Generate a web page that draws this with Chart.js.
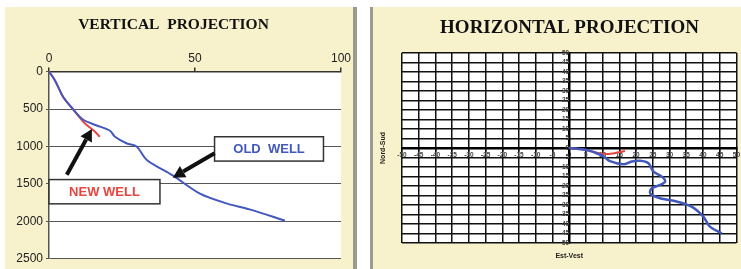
<!DOCTYPE html>
<html>
<head>
<meta charset="utf-8">
<script src="https://cdn.jsdelivr.net/npm/chart.js@4.4.1/dist/chart.umd.min.js"></script>
<style>
  body { margin: 0; background: #fff; width: 741px; height: 269px; overflow: hidden; position: relative; }
  .panel { position: absolute; top: 7px; height: 262px; background: #f7f1cc; }
  #leftPanel { left: 5px; width: 348px; border-right: 4px solid #9a9a8e; }
  #rightPanel { left: 370px; width: 368px; border-left: 3px solid #9a9a8e; }
  canvas { display: block; }
</style>
</head>
<body>
<div class="panel" id="leftPanel"><canvas id="vertChart" width="348" height="262"></canvas></div>
<div class="panel" id="rightPanel"><canvas id="horizChart" width="368" height="262"></canvas></div>
<script>
// vertical projection: horizontal displacement vs depth
var oldWellX     = [0, 2, 4.8, 8.2, 11.6, 16.4, 20.9, 22.6, 26.7, 30, 33.5, 42.5, 51.7, 60.8, 68.7, 80.8];
var oldWellDepth = [0, 115, 335, 500, 640, 720, 790, 870, 960, 1000, 1180, 1390, 1630, 1760, 1840, 1990];
var newWellX     = [0, 2, 4.8, 8.2, 9.6, 12.5, 15.4, 17.4];
var newWellDepth = [0, 115, 335, 500, 570, 700, 790, 870];

// horizontal projection: East-West vs North-South
var oldPlanE = [0, 5.3, 7.2, 10.2, 12.2, 16.2, 18.7, 21.2, 23.7, 25.2, 27.7, 28.7, 27.2, 24.7, 24.2, 27.2, 32.1, 36.6, 40.1, 42.1, 45.6];
var oldPlanN = [0, -1.1, -2.1, -4.3, -7.0, -8.6, -7.2, -6.8, -8.1, -12.5, -15.1, -17.7, -19.5, -21.2, -23.9, -26.5, -28.2, -30.9, -36.1, -41.4, -44.9];
var newPlanE = [0, 5, 8.9, 11.3, 14, 16.7];
var newPlanN = [0, -1.1, -2.8, -3.2, -2.6, -1.6];

var depthTicks = [0, 500, 1000, 1500, 2000, 2500];
var offsetTicks = [0, 50, 100];

function toPoints(xs, ys) {
    return xs.map(function(x, i) { return { x: x, y: ys[i] }; });
}

var BLUE = '#4358bd';
var RED = '#e8453f';

var whiteArea = {
    id: 'whiteArea',
    beforeDraw: function(chart) {
        var a = chart.chartArea, ctx = chart.ctx;
        ctx.save();
        ctx.fillStyle = '#ffffff';
        ctx.fillRect(a.left, a.top, a.right - a.left, a.bottom - a.top);
        ctx.restore();
    }
};

function arrow(ctx, x1, y1, x2, y2) {
    var ang = Math.atan2(y2 - y1, x2 - x1);
    var len = 12, half = 6.5;
    var bx = x2 - len * Math.cos(ang), by = y2 - len * Math.sin(ang);
    ctx.beginPath();
    ctx.moveTo(x1, y1);
    ctx.lineTo(bx, by);
    ctx.lineWidth = 4;
    ctx.strokeStyle = '#111';
    ctx.stroke();
    ctx.beginPath();
    ctx.moveTo(x2, y2);
    ctx.lineTo(bx + half * Math.sin(ang), by - half * Math.cos(ang));
    ctx.lineTo(bx - half * Math.sin(ang), by + half * Math.cos(ang));
    ctx.closePath();
    ctx.fillStyle = '#111';
    ctx.fill();
}

function labelBox(chart, x1, d1, x2, d2, text, color) {
    var ctx = chart.ctx, sx = chart.scales.x, sy = chart.scales.y;
    var l = sx.getPixelForValue(x1), r = sx.getPixelForValue(x2);
    var t = sy.getPixelForValue(d1), b = sy.getPixelForValue(d2);
    ctx.save();
    ctx.fillStyle = '#fff';
    ctx.fillRect(l, t, r - l, b - t);
    ctx.lineWidth = 1.5;
    ctx.strokeStyle = '#333';
    ctx.strokeRect(l, t, r - l, b - t);
    ctx.fillStyle = color;
    ctx.font = 'bold 13px "Liberation Sans", Arial, sans-serif';
    ctx.textAlign = 'center';
    ctx.textBaseline = 'middle';
    ctx.fillText(text, (l + r) / 2, (t + b) / 2 + 1);
    ctx.restore();
}

var wellNotes = {
    id: 'wellNotes',
    afterDatasetsDraw: function(chart) {
        var ctx = chart.ctx, sx = chart.scales.x, sy = chart.scales.y;
        labelBox(chart, 0, 1442, 38, 1766, 'NEW WELL', RED);
        labelBox(chart, 56.7, 870, 94, 1195, 'OLD  WELL', BLUE);
        ctx.save();
        arrow(ctx, sx.getPixelForValue(6.1), sy.getPixelForValue(1377),
                   sx.getPixelForValue(14.7), sy.getPixelForValue(766));
        arrow(ctx, sx.getPixelForValue(56.7), sy.getPixelForValue(1091),
                   sx.getPixelForValue(42.4), sy.getPixelForValue(1416));
        ctx.restore();
    }
};

var labelFont = { family: '"Liberation Sans", Arial, sans-serif', size: 12 };

new Chart(document.getElementById('vertChart'), {
    type: 'scatter',
    data: {
        datasets: [{
            label: 'Old well',
            data: toPoints(oldWellX, oldWellDepth),
            showLine: true,
            borderColor: BLUE,
            borderWidth: 2,
            pointRadius: 0,
            tension: 0.3
        }, {
            label: 'New well',
            data: toPoints(newWellX, newWellDepth),
            showLine: true,
            borderColor: RED,
            borderWidth: 2,
            pointRadius: 0,
            tension: 0.3
        }]
    },
    options: {
        responsive: false,
        animation: false,
        layout: { padding: { top: 0, right: 11, bottom: 5, left: 0 } },
        plugins: {
            legend: { display: false },
            tooltip: { enabled: false },
            title: {
                display: true,
                text: 'VERTICAL  PROJECTION',
                color: '#111',
                font: { family: '"Liberation Serif", "Times New Roman", serif', size: 15.5, weight: 'bold', lineHeight: 1.2 },
                padding: { top: 9, bottom: 9 }
            }
        },
        scales: {
            x: {
                type: 'linear',
                position: 'top',
                min: 0,
                max: 100,
                afterBuildTicks: function(s) { s.ticks = offsetTicks.map(function(v) { return { value: v }; }); },
                afterFit: function(s) { s.height = 28; },
                ticks: { color: '#222', font: labelFont, padding: 2, maxRotation: 0, callback: function(v) { return String(v); } },
                grid: { drawOnChartArea: false, tickLength: 4, color: '#333', lineWidth: 1.5 },
                border: { color: '#333', width: 1.5 }
            },
            y: {
                type: 'linear',
                reverse: true,
                min: 0,
                max: 2500,
                afterBuildTicks: function(s) { s.ticks = depthTicks.map(function(v) { return { value: v }; }); },
                afterFit: function(s) { s.width = 44; },
                ticks: { color: '#222', font: labelFont, padding: 3, callback: function(v) { return String(v); } },
                grid: { color: '#555', lineWidth: 1, tickLength: 3 },
                border: { color: '#555', width: 1.5 }
            }
        }
    },
    plugins: [whiteArea, wellNotes]
});

var axisNames = {
    id: 'axisNames',
    afterDraw: function(chart) {
        var ctx = chart.ctx;
        ctx.save();
        ctx.fillStyle = '#222';
        ctx.font = 'bold 7px "Liberation Sans", Arial, sans-serif';
        ctx.textAlign = 'center';
        ctx.textBaseline = 'middle';
        ctx.fillText('Est-Vest', chart.scales.x.getPixelForValue(0), 249);
        ctx.translate(10, 141);
        ctx.rotate(-Math.PI / 2);
        ctx.fillText('Nord-Sud', 0, 0);
        ctx.restore();
    }
};

var smallTick = { family: '"Liberation Sans", Arial, sans-serif', size: 6.5, weight: 'bold' };

new Chart(document.getElementById('horizChart'), {
    type: 'scatter',
    data: {
        datasets: [{
            label: 'Old well',
            data: toPoints(oldPlanE, oldPlanN),
            showLine: true,
            borderColor: BLUE,
            borderWidth: 2.5,
            pointRadius: 0,
            tension: 0.3
        }, {
            label: 'New well',
            data: toPoints(newPlanE, newPlanN),
            showLine: true,
            borderColor: RED,
            borderWidth: 2,
            pointRadius: 0,
            tension: 0.3
        }]
    },
    options: {
        responsive: false,
        animation: false,
        layout: { padding: { top: 0, right: 4, bottom: 26, left: 29 } },
        plugins: {
            legend: { display: false },
            tooltip: { enabled: false },
            title: {
                display: true,
                text: 'HORIZONTAL PROJECTION',
                color: '#111',
                font: { family: '"Liberation Serif", "Times New Roman", serif', size: 19, weight: 'bold', lineHeight: 1.2 },
                padding: { top: 10, bottom: 13 }
            }
        },
        scales: {
            x: {
                type: 'linear',
                position: { y: 0 },
                min: -50,
                max: 50,
                ticks: { stepSize: 5, autoSkip: false, maxRotation: 0, color: '#444', font: smallTick, padding: 1 },
                grid: { color: '#111', lineWidth: 1.5, tickLength: 2 },
                border: { color: '#000', width: 2.5 }
            },
            y: {
                type: 'linear',
                position: { x: 0 },
                min: -50,
                max: 50,
                ticks: {
                    stepSize: 5, autoSkip: false, color: '#444', font: smallTick, padding: 1,
                    callback: function(v) { return Math.abs(v); }
                },
                grid: { color: '#111', lineWidth: 1.5, tickLength: 2 },
                border: { color: '#000', width: 2.5 }
            }
        }
    },
    plugins: [whiteArea, axisNames]
});
</script>
</body>
</html>
